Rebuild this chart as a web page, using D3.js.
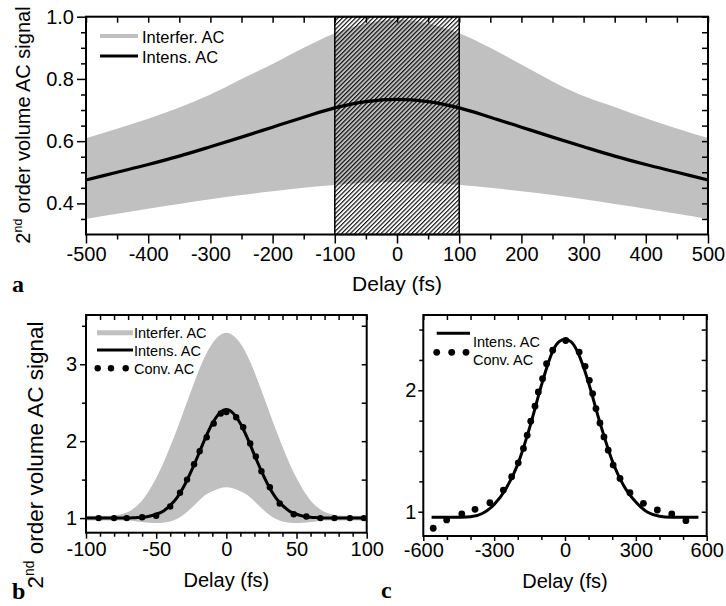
<!DOCTYPE html>
<html>
<head>
<meta charset="utf-8">
<script src="https://cdn.jsdelivr.net/npm/d3@7"></script>
<style>
  body { margin: 0; background: #fff; }
  svg { font-family: "Liberation Sans", Arial, sans-serif; }
  .lbl { font-family: "Liberation Serif", "Times New Roman", serif; font-weight: bold; }
</style>
</head>
<body>
<svg id="fig" width="726" height="606"></svg>
<script>
// panel a data
const delayA = [-500,-450,-400,-350,-300,-250,-200,-150,-100,-50,0,50,100,150,200,250,300,350,400,450,500]
const upperA = [0.609,0.640,0.672,0.708,0.750,0.800,0.848,0.900,0.947,0.978,0.990,0.978,0.947,0.900,0.846,0.792,0.745,0.710,0.674,0.641,0.610]
const lowerA = [0.350,0.367,0.383,0.398,0.413,0.427,0.439,0.450,0.459,0.466,0.469,0.466,0.459,0.450,0.439,0.427,0.413,0.398,0.383,0.367,0.350]
const intensA = [0.475,0.500,0.525,0.552,0.582,0.613,0.645,0.677,0.707,0.727,0.734,0.727,0.707,0.677,0.645,0.613,0.582,0.552,0.525,0.500,0.475]
const windowA = [-100, 100]

// panel b data
const delayB = [-100,-95,-90,-85,-80,-75,-70,-65,-60,-55,-50,-45,-40,-35,-30,-25,-20,-15,-10,-5,0,5,10,15,20,25,30,35,40,45,50,55,60,65,70,75,80,85,90,95,100]
const upperB = [1.03,1.03,1.03,1.03,1.035,1.05,1.08,1.14,1.23,1.36,1.52,1.71,1.93,2.16,2.41,2.66,2.90,3.11,3.27,3.37,3.41,3.37,3.27,3.11,2.90,2.66,2.41,2.16,1.93,1.71,1.52,1.36,1.23,1.14,1.08,1.05,1.035,1.03,1.03,1.03,1.03]
const lowerB = [0.97,0.97,0.97,0.97,0.97,0.97,0.97,0.96,0.95,0.94,0.935,0.94,0.955,0.99,1.05,1.13,1.22,1.30,1.35,1.385,1.40,1.385,1.35,1.30,1.22,1.13,1.05,0.99,0.955,0.94,0.935,0.94,0.95,0.96,0.97,0.97,0.97,0.97,0.97,0.97,0.97]
const intensB = [1.0,1.0,1.0,1.0,1.0,1.0,1.0,1.005,1.01,1.025,1.05,1.09,1.165,1.27,1.42,1.61,1.82,2.04,2.23,2.36,2.41,2.36,2.23,2.04,1.82,1.61,1.42,1.27,1.165,1.09,1.05,1.025,1.01,1.005,1.0,1.0,1.0,1.0,1.0,1.0,1.0]
const convBx = [-91,-80,-71,-60,-50,-40,-33,-28,-23,-19,-14,-9,-4,0,7,12,17,21,25,31,38,48,57,67,77,88,98]
const convBy = [1.0,1.0,1.0,1.01,1.03,1.15,1.33,1.50,1.70,1.87,2.05,2.23,2.36,2.38,2.31,2.18,1.97,1.80,1.61,1.40,1.19,1.05,1.02,1.0,1.0,1.0,1.0]

// panel c data
const delayC = [-565,-500,-450,-400,-350,-300,-250,-200,-150,-100,-75,-50,-25,0,25,50,75,100,150,200,250,300,350,400,450,500,565]
const intensC = [0.954,0.954,0.955,0.958,0.985,1.06,1.19,1.39,1.69,2.04,2.20,2.33,2.40,2.42,2.40,2.33,2.21,2.06,1.72,1.42,1.21,1.08,0.995,0.963,0.955,0.954,0.954]
const convCx = [-558,-501,-437,-381,-318,-261,-226,-198,-176,-160,-145,-127,-113,-95,-78,-52,3,60,85,103,117,131,148,165,183,204,233,275,332,391,452,512]
const convCy = [0.864,0.932,0.981,1.02,1.074,1.178,1.288,1.403,1.521,1.63,1.745,1.869,1.986,2.096,2.219,2.33,2.41,2.315,2.197,2.082,1.973,1.849,1.731,1.616,1.507,1.384,1.274,1.156,1.069,1.014,0.981,0.926]

const grey = '#c0c0c0'
const svg = d3.select('#fig')

// hatch pattern
svg.append('defs').append('pattern')
    .attr('id','hatch')
    .attr('patternUnits','userSpaceOnUse')
    .attr('width',3.1).attr('height',3.1)
    .attr('patternTransform','rotate(45)')
  .append('line')
    .attr('x1',0.6).attr('y1',0).attr('x2',0.6).attr('y2',3.1)
    .attr('stroke','black').attr('stroke-width',1.1)

function frame(g, x, y, t){
    // ticks: bottom/top point down, left/right point left
    const fmt = t.fmt || (d => String(d))
    const add = (axis, tr) => g.append('g').attr('transform', tr).call(axis)
        .call(s => s.select('.domain').remove())
        .call(s => s.selectAll('line').attr('stroke-width',1.5))
        .call(s => s.selectAll('text').attr('font-size', t.fs).attr('fill','black'))
    const [x0,x1] = x.range(), [y0,y1] = y.range()
    add(d3.axisBottom(x).tickValues(t.xMaj).tickSize(t.big).tickSizeOuter(0).tickPadding(t.pad).tickFormat(d => String(d)), `translate(0,${y0})`)
    add(d3.axisBottom(x).tickValues(t.xMin).tickSize(t.small).tickSizeOuter(0).tickFormat(''), `translate(0,${y0})`)
    add(d3.axisTop(x).tickValues(t.xMaj.concat(t.xMin)).tickSize(-t.small-1).tickSizeOuter(0).tickFormat(''), `translate(0,${y1})`)
    add(d3.axisLeft(y).tickValues(t.yMaj).tickSize(t.big).tickSizeOuter(0).tickPadding(t.pad).tickFormat(fmt), `translate(${x0},0)`)
    add(d3.axisLeft(y).tickValues(t.yMin).tickSize(t.small).tickSizeOuter(0).tickFormat(''), `translate(${x0},0)`)
    add(d3.axisRight(y).tickValues(t.yMaj.concat(t.yMin)).tickSize(-t.small-1).tickSizeOuter(0).tickFormat(''), `translate(${x1},0)`)
    g.append('rect')
        .attr('x',x0).attr('y',y1).attr('width',x1-x0).attr('height',y0-y1)
        .attr('fill','none').attr('stroke','black').attr('stroke-width',2)
}

function ylabel(x, y, size){
    const t = svg.append('text')
        .attr('transform',`translate(${x},${y}) rotate(-90)`)
        .attr('text-anchor','middle').attr('font-size',size)
    t.append('tspan').text('2')
    t.append('tspan').attr('font-size',size*0.62).attr('dy',-size*0.4).text('nd')
    t.append('tspan').attr('dy',size*0.4).text(' order volume AC signal')
}

// ---------- panel a ----------
const xA = d3.scaleLinear().domain([-500,500]).range([86,708])
const yA = d3.scaleLinear().domain([0.3,1.0]).range([234.5,16.7])
const gA = svg.append('g')
const rowsA = delayA.map((d,i) => ({x:d, up:upperA[i], lo:lowerA[i], v:intensA[i]}))

gA.append('path').datum(rowsA)
    .attr('fill',grey)
    .attr('d', d3.area().x(d=>xA(d.x)).y0(d=>yA(d.lo)).y1(d=>yA(d.up)).curve(d3.curveMonotoneX))
gA.append('rect')
    .attr('x',xA(windowA[0])).attr('y',yA(1.0))
    .attr('width',xA(windowA[1])-xA(windowA[0])).attr('height',yA(0.3)-yA(1.0))
    .attr('fill','url(#hatch)').attr('stroke','black').attr('stroke-width',1.5)
gA.append('path').datum(rowsA)
    .attr('fill','none').attr('stroke','black').attr('stroke-width',3.2)
    .attr('d', d3.line().x(d=>xA(d.x)).y(d=>yA(d.v)).curve(d3.curveMonotoneX))

frame(gA, xA, yA, {
    xMaj: d3.range(-500,501,100), xMin: d3.range(-450,451,100),
    yMaj: [0.4,0.6,0.8,1.0], yMin: [0.35,0.45,0.5,0.55,0.65,0.7,0.75,0.85,0.9,0.95],
    big: 9, small: 5, pad: 3, fs: 20, fmt: d3.format('.1f')
})

// legend a
gA.append('line').attr('x1',100).attr('x2',138).attr('y1',36).attr('y2',36).attr('stroke',grey).attr('stroke-width',4)
gA.append('line').attr('x1',100).attr('x2',138).attr('y1',56).attr('y2',56).attr('stroke','black').attr('stroke-width',3.2)
gA.append('text').attr('x',142).attr('y',42.5).attr('font-size',16.5).text('Interfer. AC')
gA.append('text').attr('x',142).attr('y',62.5).attr('font-size',16.5).text('Intens. AC')

svg.append('text').attr('x',xA(0)).attr('y',291).attr('text-anchor','middle').attr('font-size',21).text('Delay (fs)')
ylabel(30, 125, 20)
svg.append('text').attr('class','lbl').attr('x',12).attr('y',292).attr('font-size',24).text('a')

// ---------- panel b ----------
const xB = d3.scaleLinear().domain([-100,100]).range([86,366.7])
const yB = d3.scaleLinear().domain([0.81,3.64]).range([532.7,315])
const gB = svg.append('g')
const rowsB = delayB.map((d,i) => ({x:d, up:upperB[i], lo:lowerB[i], v:intensB[i]}))

gB.append('path').datum(rowsB)
    .attr('fill',grey)
    .attr('d', d3.area().x(d=>xB(d.x)).y0(d=>yB(d.lo)).y1(d=>yB(d.up)).curve(d3.curveMonotoneX))
gB.append('path').datum(rowsB)
    .attr('fill','none').attr('stroke','black').attr('stroke-width',3)
    .attr('d', d3.line().x(d=>xB(d.x)).y(d=>yB(d.v)).curve(d3.curveMonotoneX))
gB.selectAll('circle.conv').data(convBx).join('circle').attr('class','conv')
    .attr('cx',d=>xB(d)).attr('cy',(d,i)=>yB(convBy[i])).attr('r',3.2).attr('fill','black')

frame(gB, xB, yB, {
    xMaj: [-100,-50,0,50,100], xMin: [-90,-80,-70,-60,-40,-30,-20,-10,10,20,30,40,60,70,80,90],
    yMaj: [1,2,3], yMin: [1.5,2.5,3.5],
    big: 6, small: 4, pad: 3, fs: 20
})

// legend b
gB.append('line').attr('x1',97).attr('x2',133).attr('y1',332.7).attr('y2',332.7).attr('stroke',grey).attr('stroke-width',5)
gB.append('line').attr('x1',97).attr('x2',133).attr('y1',350).attr('y2',350).attr('stroke','black').attr('stroke-width',3)
gB.selectAll('circle.leg').data([97.7,111,125.7]).join('circle').attr('class','leg')
    .attr('cx',d=>d).attr('cy',368.3).attr('r',3.2).attr('fill','black')
gB.append('text').attr('x',134).attr('y',338.3).attr('font-size',14.5).text('Interfer. AC')
gB.append('text').attr('x',134).attr('y',355.7).attr('font-size',14.5).text('Intens. AC')
gB.append('text').attr('x',134).attr('y',374).attr('font-size',14.5).text('Conv. AC')

svg.append('text').attr('x',xB(0)).attr('y',587).attr('text-anchor','middle').attr('font-size',20).text('Delay (fs)')
ylabel(43, 455, 22.5)
svg.append('text').attr('class','lbl').attr('x',12).attr('y',599).attr('font-size',24).text('b')

// ---------- panel c ----------
const xC = d3.scaleLinear().domain([-600,600]).range([423.3,706.7])
const yC = d3.scaleLinear().domain([0.8,2.62]).range([536,315])
const gC = svg.append('g')

gC.append('path').datum(delayC)
    .attr('fill','none').attr('stroke','black').attr('stroke-width',3)
    .attr('d', d3.line().x(d=>xC(d)).y((d,i)=>yC(intensC[i])).curve(d3.curveMonotoneX))
gC.selectAll('circle.conv').data(convCx).join('circle').attr('class','conv')
    .attr('cx',d=>xC(d)).attr('cy',(d,i)=>yC(convCy[i])).attr('r',3.4).attr('fill','black')

frame(gC, xC, yC, {
    xMaj: [-600,-300,0,300,600], xMin: [-500,-400,-200,-100,100,200,400,500],
    yMaj: [1,2], yMin: [1.25,1.5,1.75,2.25,2.5],
    big: 5, small: 4, pad: 2, fs: 20
})

// legend c
gC.append('line').attr('x1',436.7).attr('x2',470).attr('y1',333.3).attr('y2',333.3).attr('stroke','black').attr('stroke-width',3)
gC.selectAll('circle.leg').data([436.7,451.7,466]).join('circle').attr('class','leg')
    .attr('cx',d=>d).attr('cy',352.3).attr('r',3.4).attr('fill','black')
gC.append('text').attr('x',473).attr('y',347).attr('font-size',14.5).text('Intens. AC')
gC.append('text').attr('x',473).attr('y',365).attr('font-size',14.5).text('Conv. AC')

svg.append('text').attr('x',xC(0)).attr('y',588).attr('text-anchor','middle').attr('font-size',20).text('Delay (fs)')
svg.append('text').attr('class','lbl').attr('x',381).attr('y',598).attr('font-size',24).text('c')
</script>
</body>
</html>
